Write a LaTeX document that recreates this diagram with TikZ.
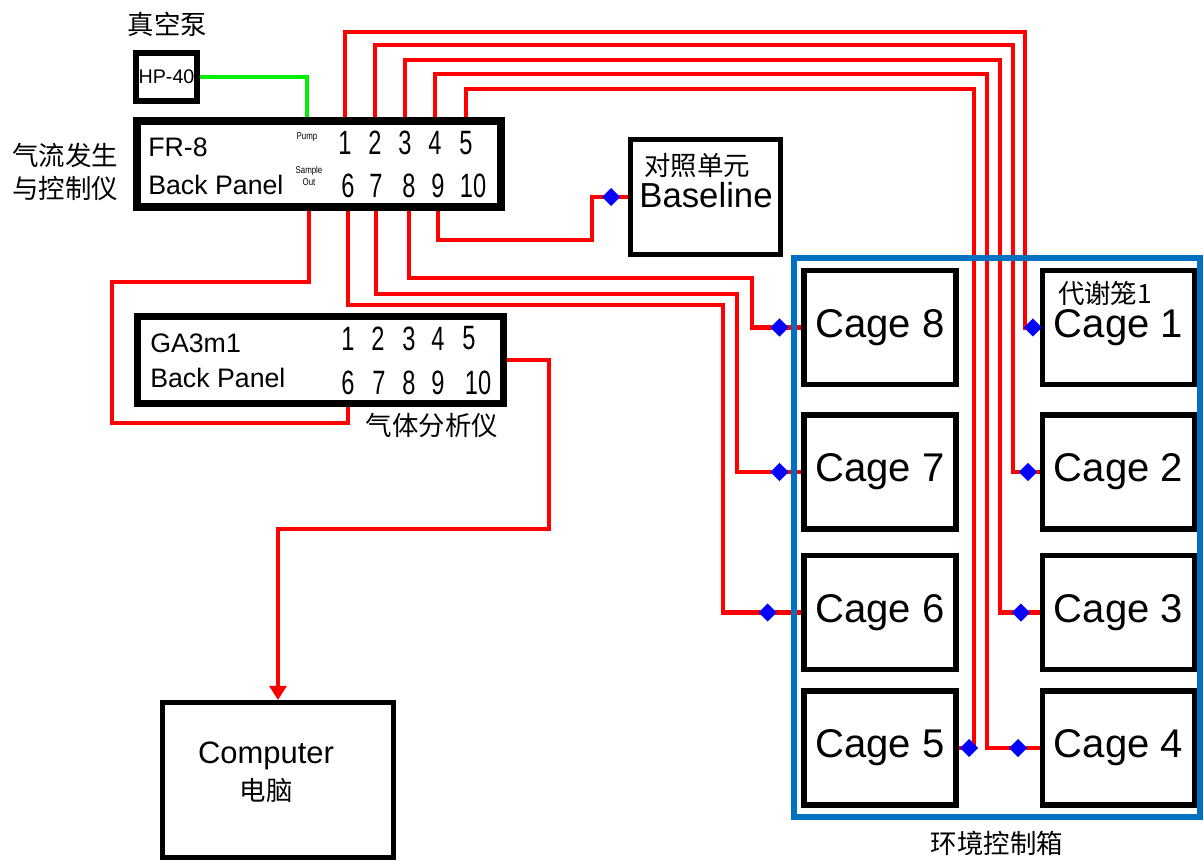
\documentclass[tikz,border=0pt]{standalone}
\usepackage{fontspec}
\setmainfont{Liberation Sans}
\newfontfamily\cjk{Noto Sans CJK SC}
\usepackage{graphicx}
\usetikzlibrary{positioning,arrows.meta,shapes.geometric,calc,backgrounds}
\definecolor{PipeRed}{RGB}{255,0,0}
\definecolor{PumpGreen}{RGB}{0,240,0}
\definecolor{BoxBlue}{RGB}{0,112,192}
\definecolor{TapBlue}{RGB}{0,0,255}

\begin{document}
\begin{tikzpicture}[
    x=0.025cm, y=-0.025cm,
    every node/.style={inner sep=0pt, font=\fontsize{19}{19}\selectfont},
    box/.style={draw, line width=3.6pt},
    cage/.style={box, minimum width=3.8cm, minimum height=2.85cm, font=\fontsize{28.5}{28.5}\selectfont},
    panel/.style={draw, line width=5.5pt, minimum width=9.1cm, minimum height=2.15cm},
    cn/.style={font=\cjk\fontsize{18.8}{18.8}\selectfont},
    num/.style={font=\fontsize{24}{24}\selectfont},
    tiny/.style={font=\fontsize{7}{9}\selectfont, align=center},
    pipe/.style={draw=PipeRed, line width=3.3pt},
    vac/.style={pipe, draw=PumpGreen},
    tap/.style={diamond, fill=TapBlue, minimum size=13pt},
]
\useasboundingbox (0,0) rectangle (1204,865);

\node[cn] (pumpcn) at (167.5,24) {真空泵};
\node[draw, line width=4.3pt, minimum width=1.525cm, minimum height=1.2cm, font=\fontsize{14}{14}\selectfont] (hp) at (166.5,77) {HP-40};

\node[panel] (fr) at (319,164) {};
\node[cn] (frcn1) at (65,155) {气流发生};
\node[cn] (frcn2) at (65,188.5) {与控制仪};
\node[anchor=west] (frname) at (148,147) {FR-8};
\node[anchor=west] (frback) at (148,185) {Back Panel};
\node[tiny] (pump) at (307,137) {\scalebox{.8}[1]{Pump}};
\node[tiny] (smp) at (309,176) {\scalebox{.8}[1]{Sample}\\\scalebox{.8}[1]{Out}};
\foreach \n/\x in {1/345,2/375,3/405,4/435,5/466}
    \node[num] (f\n) at (\x,143) {\scalebox{.7}[1]{\n}};
\foreach \n/\x in {6/348,7/376,8/409,9/438,10/473}
    \node[num] (f\n) at (\x,186) {\scalebox{.7}[1]{\n}};

\node[panel, line width=5pt, minimum width=9.15cm, minimum height=2.175cm] (ga) at (320.5,360) {};
\node[anchor=west] (ganame) at (150,343) {GA3m1};
\node[anchor=west] (gaback) at (150,377.5) {Back Panel};
\foreach \n/\x in {1/348,2/378,3/409,4/438,5/469}
    \node[num] (g\n) at (\x,338.5) {\scalebox{.7}[1]{\n}};
\foreach \n/\x in {6/348,7/379,8/409,9/438,10/478}
    \node[num] (g\n) at (\x,382.5) {\scalebox{.7}[1]{\n}};
\node[cn] (gacn) at (432,425.5) {气体分析仪};

\node[box, minimum width=3.75cm, minimum height=2.875cm] (bl) at (705.5,197) {};
\node[cn] (blcn) at (697,166) {对照单元};
\node[font=\fontsize{24.7}{24.7}\selectfont] (bltx) at (706,195) {Baseline};

\node[box, minimum width=5.775cm, minimum height=3.875cm] (pc) at (278,780) {};
\node[font=\fontsize{22}{22}\selectfont, anchor=base] (pctx) at (266,763) {Computer};
\node[cn] (pccn) at (266,791) {电脑};

\node[cage] (c8) at (880,327.5) {Cage 8};
\node[cage] (c7) at (880,472) {Cage 7};
\node[cage] (c6) at (880,612.5) {Cage 6};
\node[cage] (c5) at (880,748) {Cage 5};
\node[cage] (c1) at (1118.5,327.5) {Cage 1};
\node[cage] (c2) at (1118.5,472) {Cage 2};
\node[cage] (c3) at (1118.5,612.5) {Cage 3};
\node[cage] (c4) at (1118.5,748) {Cage 4};
\node[cn] (c1cn) at (1105,293) {代谢笼1};

\begin{scope}[on background layer]
\draw[vac] (hp.east) -| (fr.north -| pump);
\draw[pipe] (fr.north -| f1) |- (1025,32) |- (c1.west);
\draw[pipe] (fr.north -| f2) |- (1013,45) |- (c2.west);
\draw[pipe] (fr.north -| f3) |- (1000,60) |- (c3.west);
\draw[pipe] (fr.north -| f4) |- (987,74) |- (c4.west);
\draw[pipe] (fr.north -| f5) |- (974,89) |- (c5.east);
\draw[pipe] (fr.south -| smp) |- (112,282) |- (348,423) -- (ga.south -| g6);
\draw[pipe] (fr.south -| f6) |- (723,305) |- (c6.west);
\draw[pipe] (fr.south -| f7) |- (737,294) |- (c7.west);
\draw[pipe] (fr.south -| f8) |- (752,278) |- (c8.west);
\draw[pipe] (fr.south -| f9) |- (592,240) |- (bl.west);
\draw[pipe, -{Triangle[width=12pt, length=10pt]}] (ga.east) -| (549,529) -| (pc.north);
\end{scope}

\node[draw=BoxBlue, line width=4.3pt, minimum width=10.15cm, minimum height=13.975cm] (env) at (997,537.5) {};
\node[cn] (envcn) at (997,843) {环境控制箱};

\node[tap] (t1) at ([xshift=-5pt]c1.west) {};
\node[tap] (t2) at ([xshift=-8.5pt]c2.west) {};
\node[tap] (t3) at ([xshift=-13.5pt]c3.west) {};
\node[tap] (t4) at ([xshift=-15.6pt]c4.west) {};
\node[tap] (t5) at ([xshift=7.5pt]c5.east) {};
\node[tap] (t6) at ([xshift=-24pt]c6.west) {};
\node[tap] (t7) at ([xshift=-15.6pt]c7.west) {};
\node[tap] (t8) at ([xshift=-15.6pt]c8.west) {};
\node[tap] (t9) at ([xshift=-12pt]bl.west) {};
\end{tikzpicture}
\end{document}
